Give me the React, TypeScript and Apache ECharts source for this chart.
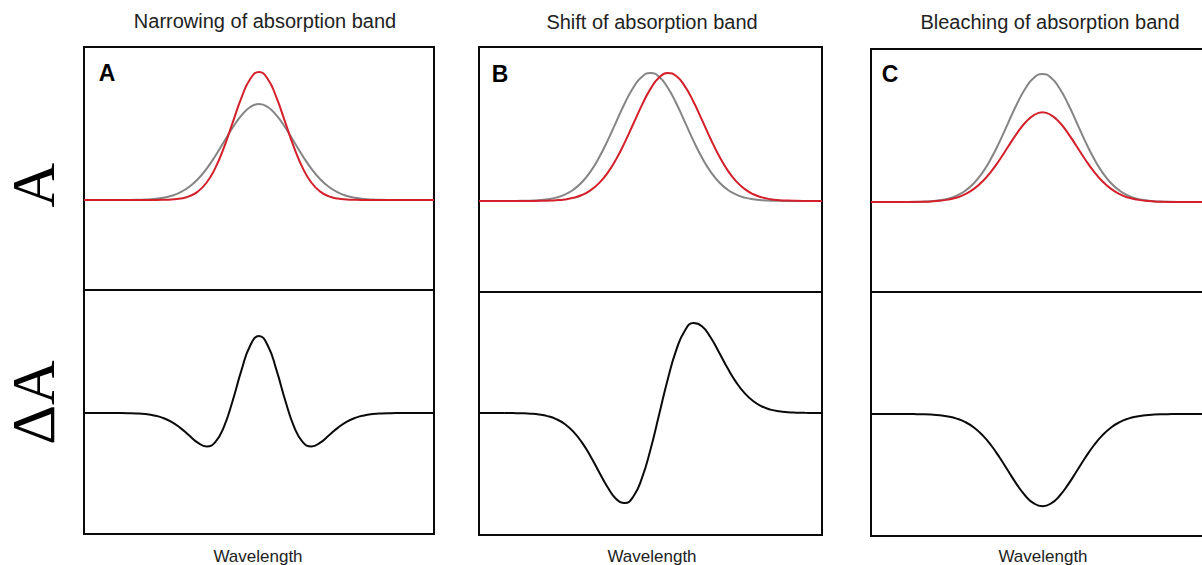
import React, { useEffect, useRef } from "react";
import * as echarts from "echarts";

// Wavelength positions (arbitrary units across each panel)
const xs = [0,2.5,5,7.5,10,12.5,15,17.5,20,22.5,25,27.5,30,32.5,35,37.5,40,42.5,45,47.5,50,52.5,55,57.5,60,62.5,65,67.5,70,72.5,75,77.5,80,82.5,85,87.5,90,92.5,95,97.5,100];

// Panel A: narrowing
const narrowBefore = [0,0,0,0,0.0003,0.0009,0.0022,0.0051,0.0111,0.0228,0.0439,0.0796,0.135,0.216,0.325,0.458,0.607,0.755,0.882,0.969,1,0.969,0.882,0.755,0.607,0.458,0.325,0.216,0.135,0.0796,0.0439,0.0228,0.0111,0.0051,0.0022,0.0009,0.0003,0,0,0,0];
const narrowAfter = [0,0,0,0,0,0,0,0,0.0003,0.0016,0.0051,0.0148,0.0381,0.0876,0.18,0.332,0.548,0.809,1.067,1.261,1.333,1.261,1.067,0.809,0.548,0.332,0.18,0.0876,0.0381,0.0148,0.0051,0.0016,0.0003,0,0,0,0,0,0,0,0];
const narrowDiff = [0,0,0,0,-0.0003,-0.0009,-0.0022,-0.0051,-0.0108,-0.0212,-0.0388,-0.0648,-0.0969,-0.1284,-0.145,-0.126,-0.059,0.054,0.185,0.292,0.333,0.292,0.185,0.054,-0.059,-0.126,-0.145,-0.1284,-0.0969,-0.0648,-0.0388,-0.0212,-0.0108,-0.0051,-0.0022,-0.0009,-0.0003,0,0,0,0];

// Panel B: shift
const shiftBefore = [0,0,0,0.0002,0.0005,0.0012,0.0028,0.0062,0.0132,0.0264,0.0496,0.0878,0.1463,0.2295,0.3391,0.4719,0.6184,0.7632,0.8868,0.9704,1,0.9704,0.8868,0.7632,0.6184,0.4719,0.3391,0.2295,0.1463,0.0878,0.0496,0.0264,0.0132,0.0062,0.0028,0.0012,0.0005,0.0002,0,0,0];
const shiftAfter = [0,0,0,0,0,0.0002,0.0004,0.0011,0.0026,0.0058,0.0123,0.0247,0.0467,0.0831,0.1393,0.22,0.327,0.4579,0.6036,0.7493,0.8759,0.9643,0.9997,0.976,0.8972,0.7768,0.6333,0.4862,0.3515,0.2393,0.1534,0.0926,0.0527,0.0282,0.0142,0.0067,0.003,0.0013,0.0005,0.0002,0];
const shiftDiff = [0,0,0,-0.0002,-0.0005,-0.0011,-0.0024,-0.0051,-0.0106,-0.0206,-0.0373,-0.0631,-0.0996,-0.1464,-0.1998,-0.2519,-0.2914,-0.3053,-0.2832,-0.2211,-0.1241,-0.0061,0.1129,0.2128,0.2788,0.3049,0.2942,0.2567,0.2052,0.1515,0.1038,0.0662,0.0395,0.022,0.0114,0.0055,0.0025,0.0011,0.0005,0.0002,0];

// Panel C: bleaching
const bleachBefore = [0,0,0,0.0002,0.0005,0.0012,0.0028,0.0062,0.0132,0.0264,0.0496,0.0878,0.1463,0.2295,0.3391,0.4719,0.6184,0.7632,0.8868,0.9704,1,0.9704,0.8868,0.7632,0.6184,0.4719,0.3391,0.2295,0.1463,0.0878,0.0496,0.0264,0.0132,0.0062,0.0028,0.0012,0.0005,0.0002,0,0,0];
const bleachAfter = [0,0,0,0.0001,0.0004,0.0008,0.002,0.0043,0.0092,0.0185,0.0347,0.0615,0.1024,0.1607,0.2374,0.3303,0.4329,0.5342,0.6208,0.6793,0.7,0.6793,0.6208,0.5342,0.4329,0.3303,0.2374,0.1607,0.1024,0.0615,0.0347,0.0185,0.0092,0.0043,0.002,0.0008,0.0004,0.0001,0,0,0];
const bleachDiff = [0,0,0,-0.0001,-0.0002,-0.0004,-0.0008,-0.0019,-0.004,-0.0079,-0.0149,-0.0263,-0.0439,-0.0689,-0.1017,-0.1416,-0.1855,-0.229,-0.266,-0.2911,-0.3,-0.2911,-0.266,-0.229,-0.1855,-0.1416,-0.1017,-0.0689,-0.0439,-0.0263,-0.0149,-0.0079,-0.004,-0.0019,-0.0008,-0.0004,-0.0002,-0.0001,0,0,0];

const panelTitles = ["Narrowing of absorption band", "Shift of absorption band", "Bleaching of absorption band"];
const panelLetters = ["A", "B", "C"];
const xLabel = "Wavelength";
const rowLabels = ["A", "ΔA"];

const GREY = "#858585";
const RED = "#d3202a";
const BLACK = "#0a0a0a";

export default function App() {
  const ref = useRef<HTMLDivElement>(null);
  useEffect(() => {
    if (!ref.current) return;
    const chart = echarts.init(ref.current, null, { renderer: "svg" });

    const grids = [
      { left: 84, top: 47, width: 350, height: 243 },
      { left: 84, top: 290, width: 350, height: 244 },
      { left: 479, top: 47, width: 343, height: 245 },
      { left: 479, top: 292, width: 343, height: 243 },
      { left: 871, top: 49, width: 343, height: 243 },
      { left: 871, top: 292, width: 343, height: 244 },
    ].map((g) => ({
      ...g,
      show: true,
      borderColor: BLACK,
      borderWidth: 2,
      backgroundColor: "transparent",
      containLabel: false,
      outerBoundsMode: "none",
    }));

    const yRanges = [
      [-0.9375, 1.594],
      [-0.524, 0.532],
      [-0.711, 1.203],
      [-0.4136, 0.41],
      [-0.703, 1.195],
      [-0.397, 0.397],
    ];

    const xAxis = grids.map((_, i) => ({ type: "value", gridIndex: i, min: 0, max: 100, show: false }));
    const yAxis = yRanges.map((r, i) => ({ type: "value", gridIndex: i, min: r[0], max: r[1], show: false }));

    const mk = (arr: number[], idx: number, color: string) => ({
      type: "line",
      xAxisIndex: idx,
      yAxisIndex: idx,
      data: xs.map((x, i) => [x, arr[i]]),
      showSymbol: false,
      smooth: true,
      silent: true,
      lineStyle: { color, width: 2 },
      itemStyle: { color },
    });

    const series = [
      mk(narrowBefore, 0, GREY),
      mk(narrowAfter, 0, RED),
      mk(narrowDiff, 1, BLACK),
      mk(shiftBefore, 2, GREY),
      mk(shiftAfter, 2, RED),
      mk(shiftDiff, 3, BLACK),
      mk(bleachBefore, 4, GREY),
      mk(bleachAfter, 4, RED),
      mk(bleachDiff, 5, BLACK),
    ];

    const sans = 'Arial, "Liberation Sans", sans-serif';
    const serif = '"Times New Roman", "Liberation Serif", serif';
    const titlePos = [[265, 21], [652, 22], [1050, 22]];
    const letterPos = [[107, 73], [500, 73.5], [890, 74]];
    const wlPos = [[258, 556], [652, 556], [1043, 556]];

    const graphic: any[] = [];
    panelTitles.forEach((t, i) => {
      graphic.push({
        type: "text", x: titlePos[i][0], y: titlePos[i][1], silent: true,
        style: { text: t, fill: "#222", font: `20px ${sans}`, textAlign: "center", textVerticalAlign: "middle" },
      });
      graphic.push({
        type: "text", x: letterPos[i][0], y: letterPos[i][1], silent: true,
        style: { text: panelLetters[i], fill: "#000", font: `bold 23px ${sans}`, textAlign: "center", textVerticalAlign: "middle" },
      });
      graphic.push({
        type: "text", x: wlPos[i][0], y: wlPos[i][1], silent: true,
        style: { text: xLabel, fill: "#222", font: `17px ${sans}`, textAlign: "center", textVerticalAlign: "middle" },
      });
    });
    const rowPos = [[33, 185], [33, 402.5]];
    rowLabels.forEach((t, i) => {
      graphic.push({
        type: "text", x: rowPos[i][0], y: rowPos[i][1], rotation: Math.PI / 2, silent: true,
        style: { text: t, fill: "#000", font: `62px ${serif}`, textAlign: "center", textVerticalAlign: "middle" },
      });
    });

    chart.setOption({
      animation: false,
      backgroundColor: "#fff",
      grid: grids,
      xAxis,
      yAxis,
      series,
      graphic,
    } as any);

    return () => chart.dispose();
  }, []);

  return <div ref={ref} style={{ position: "fixed", left: 0, top: 0, width: 1202, height: 565 }} />;
}
